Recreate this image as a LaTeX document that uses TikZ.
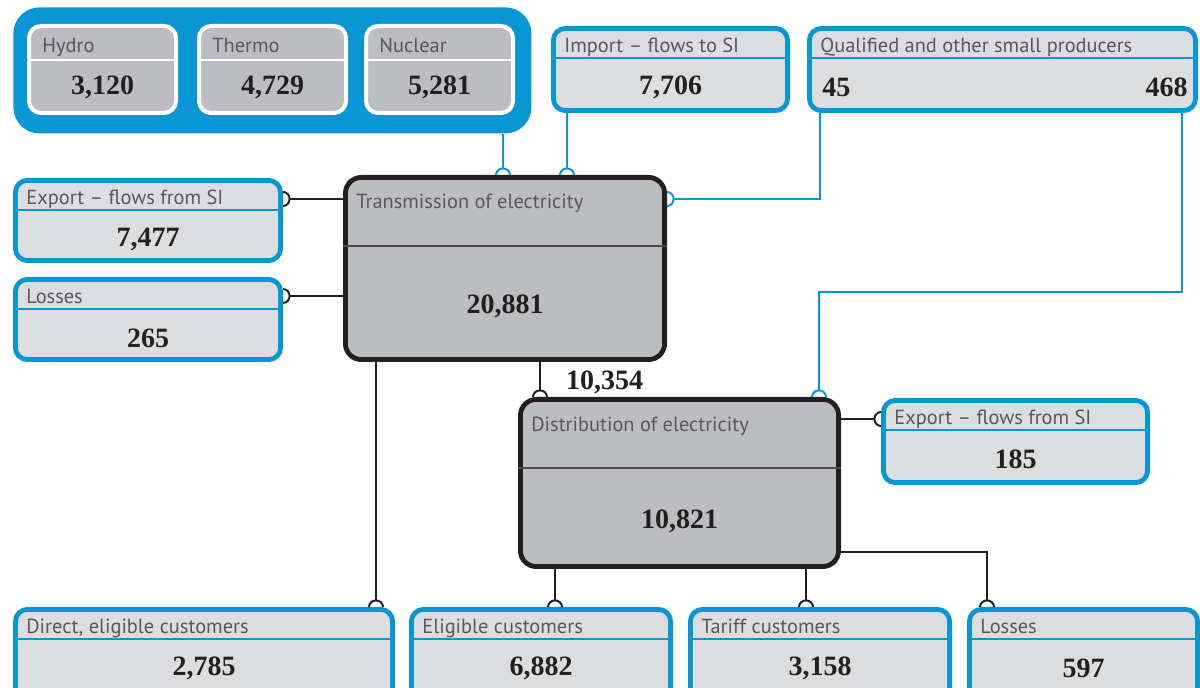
\documentclass[tikz,border=0pt]{standalone}
\usepackage{fontspec}
\usetikzlibrary{arrows.meta,positioning}
\newfontfamily\lblfont{PT Sans}
\newfontfamily\numfont{Liberation Serif}
\definecolor{siblue}{RGB}{8,150,212}
\definecolor{boxlight}{RGB}{220,221,223}
\definecolor{boxgray}{RGB}{188,189,192}
\definecolor{lblgray}{RGB}{88,88,92}
\definecolor{ink}{RGB}{35,31,32}

\begin{document}
\begin{tikzpicture}[x=0.5pt,y=-0.5pt,
	tap/.style={-{Arc Barb[reversed,width=8pt,length=3.8pt]}},
	infobox/.style={draw=siblue, line width=2.4pt, fill=boxlight, rounded corners=6pt, inner sep=0pt, anchor=north west},
	mainbox/.style={draw=ink, line width=2.4pt, fill=boxgray, rounded corners=8pt, inner sep=0pt, anchor=north west},
	prodbox/.style={draw=white, line width=2pt, fill=boxgray, rounded corners=6pt, inner sep=0pt, anchor=north west},
	prodgrp/.style={fill=siblue, rounded corners=13pt, inner sep=0pt, anchor=north west},
	lbl/.style={font=\lblfont\fontsize{10.2}{12}\selectfont, text=lblgray, anchor=base west, inner sep=0pt},
	num/.style={font=\numfont\bfseries\fontsize{14}{16}\selectfont, text=ink, inner sep=0pt},
	bline/.style={draw=siblue, line width=1pt, tap},
	kline/.style={draw=ink, line width=1pt, tap}]
	\useasboundingbox (0,0) rectangle (1200,688);
	\clip (0,0) rectangle (1200,688);

	% producers
	\node[prodgrp, minimum width=259pt, minimum height=63pt] (prod) at (13,7) {};
	\foreach \nm/\x/\txt/\val in {hydro/27/Hydro/{3,120}, thermo/197/Thermo/{4,729}, nuclear/364/Nuclear/{5,281}}{
			\node[prodbox, minimum width=73.5pt, minimum height=43.5pt] (\nm) at (\x,24) {};
			\draw[white, line width=1pt] ([yshift=-18pt]\nm.north west) -- ([yshift=-18pt]\nm.north east);
			\node[lbl] (\nm-l) at ([xshift=7.5pt,yshift=-14.5pt]\nm.north west) {\txt};
			\node[num] (\nm-v) at ([yshift=-31.5pt]\nm.north) {\val};
		}

	% flow boxes
	\foreach \nm/\x/\y/\w/\h/\txt/\val in {
			expT/13/178/270/85/{Export – flows from SI}/{7,477},
			lossT/13/277/270/85/{Losses}/{265},
			imp/551/26/239/87/{Import – flows to SI}/{7,706},
			expD/881/398/269/87/{Export – flows from SI}/{185},
			direct/13/607/382/100/{Direct, eligible customers}/{2,785},
			elig/409/607/264/100/{Eligible customers}/{6,882},
			tariff/688/607/264/100/{Tariff customers}/{3,158},
			lossD/967/607/233/100/{Losses}/{597}}{
			\node[infobox, minimum width=\w*0.5pt-2.4pt, minimum height=\h*0.5pt-2.4pt] (\nm) at (\x,\y) {};
			\draw[siblue, line width=0.8pt] ([yshift=-16pt]\nm.north west) -- ([yshift=-16pt]\nm.north east);
			\node[lbl] (\nm-l) at ([xshift=6.5pt,yshift=-13.5pt]\nm.north west) {\txt};
			\node[num] (\nm-v) at ([yshift=-30.8pt]\nm.north) {\val};
		}
	\node[infobox, minimum width=193.1pt, minimum height=41.1pt] (qual) at (807,26) {};
	\draw[siblue, line width=0.8pt] ([yshift=-16pt]qual.north west) -- ([yshift=-16pt]qual.north east);
	\node[lbl] (qual-l) at ([xshift=6.5pt,yshift=-13.5pt]qual.north west) {Qualified and other small producers};
	\node[num, anchor=west] (qual-a) at ([xshift=7.5pt,yshift=-30.8pt]qual.north west) {45};
	\node[num, anchor=east] (qual-b) at ([xshift=-5pt,yshift=-30.8pt]qual.north east) {468};

	% transmission and distribution
	\node[mainbox, minimum width=159.6pt, minimum height=91.1pt] (trans) at (343,175) {};
	\draw[ink!80, line width=0.8pt] ([yshift=-35.5pt]trans.north west) -- ([yshift=-35.5pt]trans.north east);
	\node[lbl] (trans-l) at ([xshift=6.5pt,yshift=-17pt]trans.north west) {Transmission of electricity};
	\node[num] (trans-v) at ([yshift=-65.5pt]trans.north) {20,881};
	\node[mainbox, minimum width=159.1pt, minimum height=83.6pt] (dist) at (518,397) {};
	\draw[ink!80, line width=0.8pt] ([yshift=-35.5pt]dist.north west) -- ([yshift=-35.5pt]dist.north east);
	\node[lbl] (dist-l) at ([xshift=6.5pt,yshift=-17.5pt]dist.north west) {Distribution of electricity};
	\node[num] (dist-v) at ([yshift=-62pt]dist.north) {10,821};

	% inputs
	\draw[bline] (prod.south -| 503,0) -- (trans.north -| 503,0);
	\draw[bline] (imp.south -| 567,0) -- (trans.north -| 567,0);
	\draw[bline] (qual.south -| 820,0) |- (trans.east |- 0,199);
	\draw[bline] (qual.south -| 1182,0) |- (819,292) -- (dist.north -| 819,0);
	% outputs
	\draw[kline] (trans.west |- 0,199) -- (expT.east |- 0,199);
	\draw[kline] (trans.west |- 0,296) -- (lossT.east |- 0,296);
	\draw[kline] (trans.south -| 376,0) -- (direct.north -| 376,0);
	\draw[kline] (trans.south -| 540,0) -- node[num, anchor=west, xshift=12.5pt, yshift=-1.5pt] (tdflow) {10,354} (dist.north -| 540,0);
	\draw[kline] (dist.east |- 0,419) -- (expD.west |- 0,419);
	\draw[kline] (dist.south -| 555,0) -- (elig.north -| 555,0);
	\draw[kline] (dist.south -| 806,0) -- (tariff.north -| 806,0);
	\draw[kline] (dist.east |- 0,552) -| (lossD.north -| 987,0);
\end{tikzpicture}
\end{document}
